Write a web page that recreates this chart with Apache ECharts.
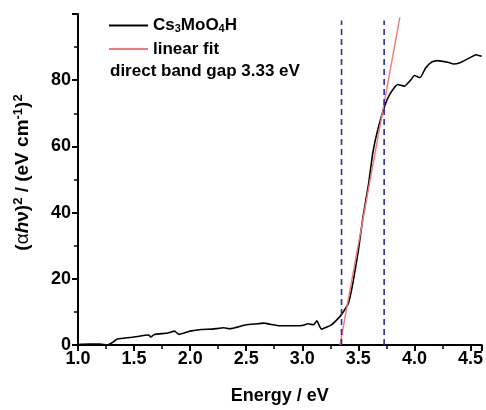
<!DOCTYPE html>
<html><head><meta charset="utf-8">
<script src="https://cdn.jsdelivr.net/npm/echarts@6/dist/echarts.min.js"></script>
<style>html,body{margin:0;padding:0;background:#fff}#c{width:486px;height:410px}</style>
</head><body><div id="c"></div>
<script>
const energy = [1.0,1.1,1.2,1.257,1.30,1.35,1.5,1.63,1.65,1.68,1.8,1.86,1.9,2.0,2.1,2.2,2.3,2.35,2.5,2.6,2.65,2.8,3.0,3.05,3.1,3.13,3.17,3.26,3.336,3.41,3.45,3.50,3.54,3.59,3.63,3.675,3.735,3.78,3.85,3.91,3.97,4.0,4.05,4.1,4.15,4.2,4.3,4.35,4.4,4.5,4.55,4.6];
const absorb = [0.2,0.3,0.3,0.0,0.6,1.8,2.4,3.0,2.4,3.2,3.6,4.2,3.2,4.2,4.7,4.8,5.2,4.9,6.1,6.4,6.6,5.8,5.9,6.4,6.1,7.3,4.8,6.1,8.6,12.5,18.5,28.5,38.4,48.4,58.3,65.3,72.2,75.7,78.7,78.2,80.2,81.4,80.8,83.7,85.4,85.9,85.4,84.9,85.2,86.9,87.7,87.2];
const fitX = [3.336, 3.87];
const fitY = [0, 99];
const gapLinesX = [3.35, 3.73];
const gapLineY = [0, 98];
const xTicks = [1.0,1.5,2.0,2.5,3.0,3.5,4.0,4.5];
const yTicks = [0,20,40,60,80];

const FONT = '"Liberation Sans", Arial, sans-serif';
const chart = echarts.init(document.getElementById('c'), null, {renderer:'canvas'});
const series = [
  {name:'Cs3MoO4H', type:'line', data: energy.map((x,i)=>[x,absorb[i]]), showSymbol:false, smooth:0.15,
   lineStyle:{color:'#000', width:1.6}, itemStyle:{color:'#000'}, z:3},
  {name:'linear fit', type:'line', data: fitX.map((x,i)=>[x,fitY[i]]), showSymbol:false,
   lineStyle:{color:'#f07a7a', width:1.4}, itemStyle:{color:'#f07a7a'}, z:4}
];
gapLinesX.forEach((gx)=>{
  series.push({type:'line', data: gapLineY.map(y=>[gx,y]), showSymbol:false, silent:true,
    lineStyle:{color:'#2b2b9b', width:1.6, type:[6,4]}, z:5});
});
chart.setOption({
  animation:false,
  backgroundColor:'#fff',
  grid:{left:78, right:1, top:14, bottom:61, containLabel:false},
  legend:{
    left:109, top:17, padding:0, orient:'vertical', itemGap:6, itemWidth:39, itemHeight:2,
    icon:'rect',
    data:[{name:'Cs3MoO4H'},{name:'linear fit'}],
    formatter:(n)=> n==='Cs3MoO4H' ? '{n|Cs}{s|3}{n|MoO}{s|4}{n|H}' : '{n|linear fit}',
    textStyle:{rich:{
      n:{fontFamily:FONT, fontWeight:'bold', fontSize:17, color:'#000', lineHeight:18},
      s:{fontFamily:FONT, fontWeight:'bold', fontSize:11, color:'#000', verticalAlign:'bottom', padding:[6,0,0,0], lineHeight:18}
    }}
  },
  graphic:[{type:'text', left:110, top:63, style:{text:'direct band gap 3.33 eV', font:'bold 17px '+FONT, fill:'#000'}}],
  xAxis:{
    type:'value', min:1.0, max:4.6, interval:0.5,
    axisLine:{show:true, lineStyle:{color:'#000', width:2}},
    axisTick:{show:true, inside:false, length:6, lineStyle:{color:'#000', width:2}},
    minorTick:{show:true, splitNumber:2, length:4, lineStyle:{color:'#000', width:1.5}},
    splitLine:{show:false},
    axisLabel:{fontFamily:FONT, fontWeight:'bold', fontSize:18, color:'#000', margin:5,
      formatter:(v)=> xTicks.some(t=>Math.abs(t-v)<1e-6) ? v.toFixed(1) : ''},
    name:'Energy / eV', nameLocation:'middle', nameGap:42,
    nameTextStyle:{fontFamily:FONT, fontWeight:'bold', fontSize:18, color:'#000'}
  },
  yAxis:{
    type:'value', min:0, max:100, interval:20,
    axisLine:{show:true, lineStyle:{color:'#000', width:2}},
    axisTick:{show:true, inside:false, length:6, lineStyle:{color:'#000', width:2}},
    minorTick:{show:true, splitNumber:2, length:4, lineStyle:{color:'#000', width:1.5}},
    splitLine:{show:false},
    axisLabel:{fontFamily:FONT, fontWeight:'bold', fontSize:18, color:'#000', margin:7,
      formatter:(v)=> yTicks.includes(v) ? String(v) : ''},
    name:'{n|(}{g|α}{i|h}{n|ν)}{p|2}{n| / (eV cm}{p|-1}{n|)}{p|2}', nameLocation:'middle', nameGap:44, nameRotate:90,
    nameTextStyle:{padding:[0,0,0,14], rich:{
      n:{fontFamily:FONT, fontWeight:'bold', fontSize:19, color:'#000', lineHeight:22},
      g:{fontFamily:FONT, fontWeight:'normal', fontSize:19, color:'#000', lineHeight:22},
      i:{fontFamily:FONT, fontWeight:'bold', fontStyle:'italic', fontSize:19, color:'#000', lineHeight:22},
      p:{fontFamily:FONT, fontWeight:'bold', fontSize:13, color:'#000', verticalAlign:'top', lineHeight:22}
    }}
  },
  series: series
});
</script></body></html>
